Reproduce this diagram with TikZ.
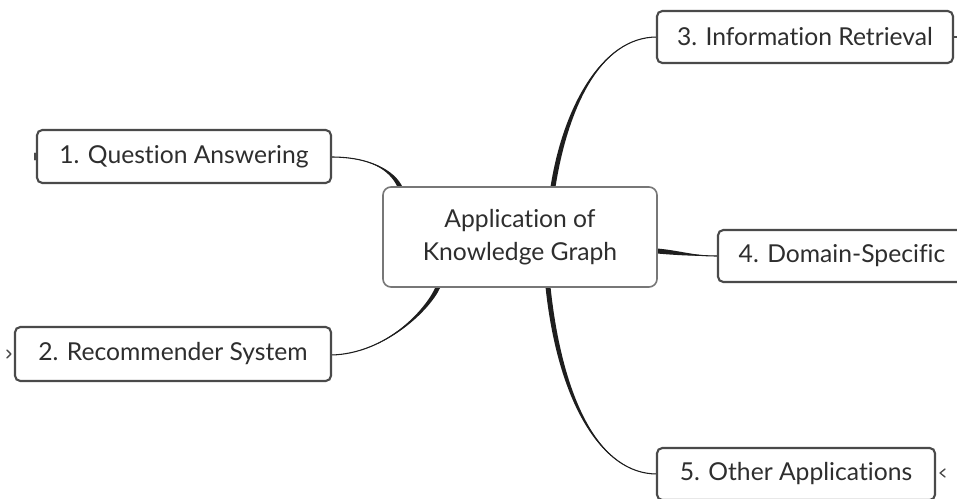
\documentclass[tikz,border=0pt]{standalone}
\usepackage{fontspec}
\setmainfont{Lato}[Ligatures={NoCommon}]
\usetikzlibrary{calc}
\def\pu{0.75pt}
\definecolor{ink}{HTML}{2E2E2E}
\definecolor{edge}{HTML}{4A4A4A}
\definecolor{link}{HTML}{1E1E1E}
\tikzset{
  topic/.style={draw=edge, line width=1.6pt, rounded corners=4pt, fill=white,
    text=ink, inner sep=0pt, align=center,
    font=\fontsize{18.5}{25}\selectfont},
  hub/.style={topic, line width=1.2pt, draw=edge!75, rounded corners=6pt},
  marker/.style={draw=edge, line width=1pt, line cap=round, line join=round},
}
% tapered branch: thin at #1, wide (+-#5) at #4
\newcommand\branch[5]{%
  \fill[link] (#1) .. controls (#2) and ($(#3)+(#5)$) .. ($(#4)+(#5)$)
     -- ($(#4)-(#5)$) .. controls ($(#3)-(#5)$) and (#2) .. (#1) -- cycle;
  \draw[link, line width=0.8pt] (#1) .. controls (#2) and (#3) .. (#4);
}
\begin{document}
\begin{tikzpicture}[x=0.75pt, y=-0.75pt]
  \useasboundingbox (0,0) rectangle (957,499);
  \fill[white] (0,0) rectangle (957,499);

  % connectors first, so boxes sit on top
  \coordinate (hubA) at (400,187);
  \coordinate (hubB) at (438,287);
  \coordinate (hubC) at (553,187);
  \coordinate (hubD) at (657,251);
  \coordinate (hubE) at (548,287);
  \coordinate (t1) at (331,157);
  \coordinate (t2) at (331,355);
  \coordinate (t3) at (657,37);
  \coordinate (t4) at (718,256);
  \coordinate (t5) at (657,474);

  \branch{t1}{370,157}{392,170}{hubA}{2.5,0}
  \branch{t2}{385,354}{428,310}{hubB}{2.5,0}
  \branch{t3}{600,37}{565,110}{hubC}{2.5,0}
  \branch{t4}{695,256}{680,253}{hubD}{0,2.5}
  \branch{t5}{600,474}{560,400}{hubE}{2.5,0}

  % central topic
  \node[hub, minimum width=274*\pu, minimum height=100*\pu] (c) at (520,237)
    {Application of\\Knowledge Graph};

  % sub-topics
  \node[topic, minimum width=294*\pu, minimum height=53*\pu] (q1) at (184,156.5)
    {1. Question Answering};
  \node[topic, minimum width=316*\pu, minimum height=54*\pu] (q2) at (173,354)
    {2. Recommender System};
  \node[topic, minimum width=296*\pu, minimum height=52*\pu] (q3) at (805,37)
    {3. Information Retrieval};
  \node[topic, minimum width=248*\pu, minimum height=52*\pu] (q4) at (842,256)
    {4. Domain-Specific};
  \node[topic, minimum width=278*\pu, minimum height=52*\pu] (q5) at (796,474)
    {5. Other Applications};

  % collapse markers
  \draw[marker, line width=1.6pt] ($(q1.west)+(-1,-3)$) -- ($(q1.west)+(-1,3)$);
  \draw[marker] ($(q2.west)+(-7,-4)$) -- ($(q2.west)+(-3,0)$) -- ($(q2.west)+(-7,4)$);
  \draw[marker] ($(q3.east)+(0,0)$) -- ($(q3.east)+(4,0)$);
  \draw[marker] ($(q5.east)+(9,-5)$) -- ($(q5.east)+(4,-1)$) -- ($(q5.east)+(9,3)$);
\end{tikzpicture}
\end{document}
